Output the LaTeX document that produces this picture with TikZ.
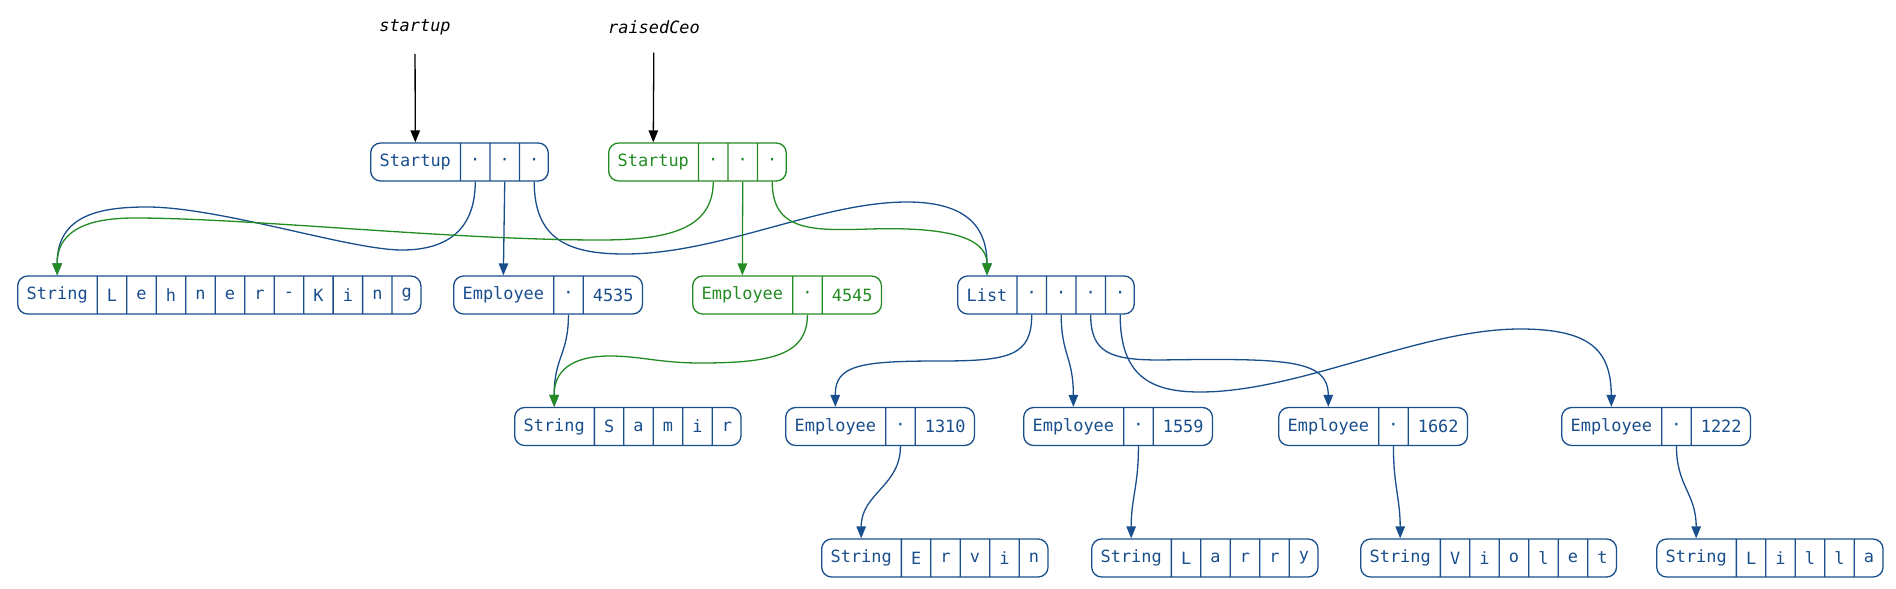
\documentclass[tikz,border=0pt]{standalone}
\usepackage{fontspec}
\setmonofont{DejaVu Sans Mono}
\usetikzlibrary{shapes.multipart,arrows.meta}
\definecolor{recblue}{RGB}{24,78,140}
\definecolor{recgreen}{RGB}{34,139,34}
\tikzset{
  rec/.style={rectangle split, rectangle split horizontal, rectangle split parts=#1,
    draw, rounded corners=10pt, line width=1.3pt, minimum height=38pt,
    inner xsep=9pt, inner ysep=0pt, anchor=west,
    font=\ttfamily\fontsize{16.9}{20}\selectfont},
  old/.style={draw=recblue, text=recblue},
  new/.style={draw=recgreen, text=recgreen},
  lab/.style={font=\ttfamily\itshape\fontsize{16.9}{20}\selectfont, inner sep=0pt},
  ptr/.style={-{Triangle[length=12pt,width=9.5pt]}, line width=1.3pt},
}
\begin{document}
\begin{tikzpicture}[x=1pt, y=-1pt]
  \useasboundingbox (0,0) rectangle (1896,589);

  % variables
  \node[lab] (vstartup) at (415,27) {startup};
  \node[lab] (vraised) at (654,27) {raisedCeo};

  % records
  \node[rec=4, old] (sb) at (370,162) {Startup \nodepart{two} · \nodepart{three} · \nodepart{four} ·};
  \node[rec=4, new] (sg) at (608,162) {Startup \nodepart{two} · \nodepart{three} · \nodepart{four} ·};

  \node[rec=12, old] (lk) at (17,295) {String \nodepart{two} L \nodepart{three} e \nodepart{four} h
    \nodepart{five} n \nodepart{six} e \nodepart{seven} r \nodepart{eight} -
    \nodepart{nine} K \nodepart{ten} i \nodepart{eleven} n \nodepart{twelve} g};
  \node[rec=3, old] (e4535) at (453,295) {Employee \nodepart{two} · \nodepart{three} 4535};
  \node[rec=3, new] (e4545) at (692,295) {Employee \nodepart{two} · \nodepart{three} 4545};
  \node[rec=5, old] (lst) at (957,295) {List \nodepart{two} · \nodepart{three} · \nodepart{four} · \nodepart{five} ·};

  \node[rec=6, old] (samir) at (514,426.5) {String \nodepart{two} S \nodepart{three} a \nodepart{four} m
    \nodepart{five} i \nodepart{six} r};
  \node[rec=3, old] (e1310) at (785,426.5) {Employee \nodepart{two} · \nodepart{three} 1310};
  \node[rec=3, old] (e1559) at (1023,426.5) {Employee \nodepart{two} · \nodepart{three} 1559};
  \node[rec=3, old] (e1662) at (1278,426.5) {Employee \nodepart{two} · \nodepart{three} 1662};
  \node[rec=3, old] (e1222) at (1561,426.5) {Employee \nodepart{two} · \nodepart{three} 1222};

  \node[rec=6, old] (ervin) at (821,558) {String \nodepart{two} E \nodepart{three} r \nodepart{four} v
    \nodepart{five} i \nodepart{six} n};
  \node[rec=6, old] (larry) at (1091,558) {String \nodepart{two} L \nodepart{three} a \nodepart{four} r
    \nodepart{five} r \nodepart{six} y};
  \node[rec=7, old] (violet) at (1360,558) {String \nodepart{two} V \nodepart{three} i \nodepart{four} o
    \nodepart{five} l \nodepart{six} e \nodepart{seven} t};
  \node[rec=6, old] (lilla) at (1656,558) {String \nodepart{two} L \nodepart{three} i \nodepart{four} l
    \nodepart{five} l \nodepart{six} a};

  % variable pointers
  \draw[ptr, shorten <=19pt] (vstartup) -- (sb.one north);
  \draw[ptr, shorten <=19pt] (vraised) -- (sg.one north);

  % old startup
  \draw[ptr, recblue] (sb.two south) .. controls +(0,54) and (440,250) .. (402,250)
    .. controls (350,250) and (220,207) .. (147,207)
    .. controls (100,207) and (57,215) .. (lk.one north);
  \draw[ptr, recblue] (sb.three south) -- (e4535.one north);
  \draw[ptr, recblue] (sb.four south) .. controls +(0,59) and (570,254) .. (625,254)
    .. controls (720,254) and (820,202) .. (907,202)
    .. controls (970,202) and (987,230) .. (lst.one north);

  % new startup
  \draw[ptr, recgreen] (sg.two south) .. controls +(0,49) and (665,240) .. (600,240)
    .. controls (450,240) and (250,218) .. (134,218)
    .. controls (80,218) and (57,235) .. (lk.one north);
  \draw[ptr, recgreen] (sg.three south) -- (e4545.one north);
  \draw[ptr, recgreen] (sg.four south) .. controls +(0,49) and (810,231) .. (870,229)
    .. controls (940,227) and (987,235) .. (lst.one north);

  % employees
  \draw[ptr, recblue] (e4535.two south) .. controls +(0,40) and +(0,-50) .. (samir.one north);
  \draw[ptr, recgreen] (e4545.two south) .. controls +(0,41) and (770,363) .. (700,363)
    .. controls (660,363) and (640,356) .. (610,356)
    .. controls (570,356) and (554,372) .. (samir.one north);

  % list
  \draw[ptr, recblue] (lst.two south) .. controls +(0,41) and (1010,361) .. (940,361)
    .. controls (860,361) and (835,365) .. (e1310.one north);
  \draw[ptr, recblue] (lst.three south) .. controls +(0,40) and +(0,-50) .. (e1559.one north);
  \draw[ptr, recblue] (lst.four south) .. controls +(0,38) and (1110,360) .. (1160,360)
    .. controls (1290,358) and (1328,360) .. (e1662.one north);
  \draw[ptr, recblue] (lst.five south) .. controls +(0,61) and (1150,392) .. (1200,392)
    .. controls (1300,392) and (1420,329) .. (1520,329)
    .. controls (1590,329) and (1611,350) .. (e1222.one north);

  % names
  \draw[ptr, recblue] (e1310.two south) .. controls +(0,40) and +(0,-45) .. (ervin.one north);
  \draw[ptr, recblue] (e1559.two south) .. controls +(0,40) and +(0,-40) .. (larry.one north);
  \draw[ptr, recblue] (e1662.two south) .. controls +(0,40) and +(0,-40) .. (violet.one north);
  \draw[ptr, recblue] (e1222.two south) .. controls +(0,40) and +(0,-45) .. (lilla.one north);
\end{tikzpicture}
\end{document}
